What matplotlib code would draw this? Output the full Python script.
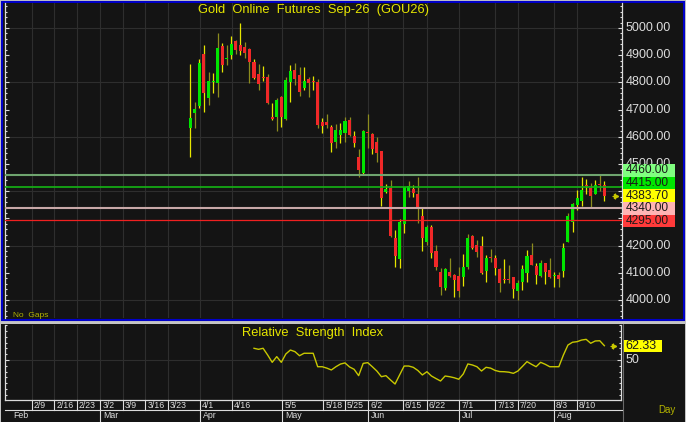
import numpy as np
import matplotlib
matplotlib.use("Agg")
import matplotlib.pyplot as plt
from matplotlib.patches import Rectangle
from matplotlib.ticker import MultipleLocator, FixedLocator
import matplotlib.transforms as mtransforms

plt.rcParams['font.family'] = ['Liberation Sans', 'DejaVu Sans']

# daily OHLC, Gold Online Futures Sep-26 (GOU26)
opens = [4633, 4689, 4713, 4903, 4744, 4802, 4799, 4934, 4885, 4901,
         4953, 4937, 4929, 4922, 4876, 4830, 4820, 4819, 4674, 4672,
         4745, 4664, 4803, 4846, 4827, 4778, 4811, 4806, 4803, 4656,
         4656, 4635, 4582, 4607, 4615, 4662, 4603, 4527, 4466, 4619,
         4610, 4582, 4549, 4396, 4411, 4227, 4151, 4279, 4401, 4407,
         4390, 4309, 4214, 4267, 4180, 4104, 4043, 4104, 4092, 4088,
         4086, 4120, 4237, 4202, 4199, 4108, 4156, 4153, 4113, 4076,
         4075, 4083, 4034, 4067, 4098, 4165, 4125, 4088, 4135, 4110,
         4088, 4092, 4108, 4215, 4288, 4349, 4365, 4420, 4411, 4390,
         4425, 4423]
highs = [4866, 4729, 4885, 4937, 4839, 4833, 4980, 4946, 4937, 4971,
         4956, 5020, 4950, 4925, 4885, 4868, 4860, 4830, 4723, 4741,
         4750, 4821, 4864, 4873, 4858, 4855, 4819, 4824, 4811, 4668,
         4683, 4643, 4647, 4652, 4672, 4672, 4621, 4554, 4625, 4683,
         4613, 4598, 4549, 4426, 4441, 4257, 4297, 4414, 4437, 4423,
         4451, 4337, 4276, 4276, 4202, 4116, 4117, 4153, 4095, 4120,
         4169, 4241, 4239, 4221, 4235, 4165, 4186, 4165, 4116, 4150,
         4129, 4086, 4074, 4129, 4184, 4211, 4137, 4147, 4135, 4153,
         4104, 4104, 4211, 4319, 4355, 4404, 4453, 4444, 4429, 4441,
         4460, 4436]
lows = [4527, 4631, 4705, 4692, 4717, 4760, 4747, 4839, 4864, 4885,
        4903, 4901, 4888, 4797, 4811, 4772, 4806, 4720, 4662, 4623,
        4635, 4662, 4729, 4790, 4750, 4772, 4745, 4772, 4631, 4613,
        4631, 4545, 4558, 4578, 4582, 4603, 4561, 4451, 4460, 4558,
        4537, 4509, 4346, 4392, 4233, 4120, 4116, 4245, 4380, 4380,
        4284, 4181, 4202, 4153, 4110, 4018, 4037, 4086, 4010, 4010,
        4052, 4113, 4186, 4157, 4096, 4067, 4141, 4092, 4031, 4061,
        4064, 4006, 4000, 4037, 4067, 4129, 4059, 4086, 4059, 4080,
        4049, 4049, 4086, 4215, 4251, 4331, 4346, 4390, 4341, 4390,
        4402, 4365]
closes = [4668, 4702, 4870, 4760, 4805, 4804, 4925, 4864, 4887, 4941,
          4919, 4915, 4907, 4876, 4815, 4794, 4817, 4723, 4664, 4735,
          4672, 4809, 4843, 4811, 4766, 4805, 4797, 4800, 4642, 4640,
          4643, 4578, 4625, 4625, 4658, 4607, 4578, 4478, 4621, 4615,
          4554, 4542, 4374, 4408, 4235, 4162, 4288, 4414, 4419, 4392,
          4333, 4227, 4270, 4174, 4122, 4047, 4113, 4088, 4074, 4034,
          4120, 4227, 4190, 4178, 4098, 4153, 4154, 4119, 4064, 4072,
          4073, 4039, 4064, 4113, 4162, 4129, 4092, 4137, 4104, 4083,
          4090, 4076, 4190, 4309, 4353, 4374, 4404, 4418, 4382, 4423,
          4423, 4383.70]
# bright (1) / dim (0) shadow flag as shown by the platform
shadow_flag = [1, 0, 1, 1, 0, 1, 0, 1, 0, 1,
               0, 1, 0, 0, 1, 0, 1, 0, 1, 0,
               1, 0, 1, 0, 0, 1, 0, 1, 0, 1,
               0, 1, 0, 1, 0, 0, 1, 0, 1, 0,
               1, 0, 1, 1, 0, 1, 1, 1, 0, 1,
               0, 1, 0, 1, 0, 0, 1, 0, 1, 0,
               1, 0, 1, 0, 1, 1, 0, 1, 0, 1,
               0, 1, 0, 1, 1, 0, 1, 0, 1, 0,
               1, 0, 1, 0, 1, 1, 1, 1, 0, 1,
               0, 1]
# RSI(14), starts on the 15th bar
rsi_values = [60.1, 59.2, 60.1, 54.3, 48.0, 52.9, 48.0, 55.2, 58.6, 57.2,
              53.7, 55.8, 55.8, 55.8, 44.2, 44.2, 43.0, 41.4, 44.2, 46.5,
              47.5, 44.0, 42.0, 36.5, 47.1, 47.7, 44.2, 40.5, 35.6, 36.5,
              32.8, 29.3, 37.1, 44.8, 44.8, 43.7, 41.0, 37.1, 39.9, 36.2,
              34.0, 31.9, 36.2, 35.6, 34.7, 33.4, 38.0, 46.6, 45.7, 44.2,
              40.5, 43.7, 43.0, 41.0, 40.0, 39.9, 39.5, 38.5, 40.5, 44.5,
              48.6, 46.3, 44.2, 48.0, 46.3, 44.2, 44.2, 44.2, 54.3, 62.9,
              65.3, 65.8, 67.2, 67.8, 64.4, 66.4, 66.6, 62.33]
rsi_start = 14

# price levels drawn on the chart and their tag colours
level_values = [4460.00, 4415.00, 4340.00, 4295.00]
level_line_colors = ['#6fa56f', '#14b414', '#c8a8a8', '#f02020']
level_line_widths = [1.5, 1.2, 1.5, 0.9]
tag_values = [4460.00, 4415.00, 4383.70, 4340.00, 4295.00]
tag_colors = ['#80ff80', '#00e600', '#ffff00', '#ffb4b4', '#ff3a3a']
last_rsi = 62.33

# date axis (bar-slot positions)
week_pos = [-34.8, -29.9, -24.9, -19.8, -14.9, -9.9, -4.9, 2.1, 9.1, 20.2,
            29.2, 34.0, 39.1, 46.7, 52.0, 59.1, 67.0, 72.0, 79.9, 85.0]
week_labels = ['2/9', '2/16', '2/23', '3/2', '3/9', '3/16', '3/23', '4/1', '4/16', '5/5',
               '5/18', '5/25', '6/2', '6/15', '6/22', '7/1', '7/13', '7/20', '8/3', '8/10']
month_pos = [-19.8, 2.1, 20.2, 39.1, 59.1, 79.9]
month_labels = ['Mar', 'Apr', 'May', 'Jun', 'Jul', 'Aug']

W, H = 686, 422
BG = '#141414'
GRID = '#2e2e2e'
AXC = '#dcdcdc'
YEL = '#e6e600'
OLV = '#b4b400'

step_px = 4.55
first_px = 190.3


def px_box(x0, y0, x1, y1):
    return [x0 / W, 1 - y1 / H, (x1 - x0) / W, (y1 - y0) / H]


fig = plt.figure(figsize=(W / 100, H / 100), dpi=100, facecolor='#c4c4c4')

bg = fig.add_axes([0, 0, 1, 1])
bg.set_xlim(0, W)
bg.set_ylim(H, 0)
bg.axis('off')
bg.add_patch(Rectangle((2, 2), 681.5, 318, facecolor=BG, edgecolor='#0000c8', lw=1.5))
bg.add_patch(Rectangle((1, 324), 684, 98, facecolor=BG, edgecolor='none'))
bg.plot([623, 623], [324, 422], color='#6a6a6a', lw=0.8)

# ---------------- price panel ----------------
ax = fig.add_axes(px_box(5, 3, 622, 318))
ax.set_facecolor(BG)
ax.set_xlim((5 - first_px) / step_px, (622 - first_px) / step_px)
ax.set_ylim(5000 - 290 / 0.272, 5000 + 25 / 0.272)

x = np.arange(len(closes))
o = np.array(opens, float)
h = np.array(highs, float)
l = np.array(lows, float)
c = np.array(closes, float)

for p in week_pos:
    ax.axvline(p, color=GRID, lw=0.8, zorder=0)
for p in range(4000, 5001, 200):
    ax.axhline(p, color=GRID, lw=0.8, zorder=0)

wick_cols = [YEL if f else '#8c8c1e' for f in shadow_flag]
ax.vlines(x, l, h, colors=wick_cols, lw=0.9, zorder=2)
body_cols = ['#00e600' if cc >= oo else '#f02828' for oo, cc in zip(o, c)]
ax.bar(x, np.maximum(np.abs(c - o), 4), bottom=np.minimum(o, c), width=0.66,
       color=body_cols, lw=0, zorder=3)

for v, col, lw in zip(level_values, level_line_colors, level_line_widths):
    ax.axhline(v, color=col, lw=lw, zorder=4)

for s in ['top', 'bottom']:
    ax.spines[s].set_visible(False)
for s in ['left', 'right']:
    ax.spines[s].set_color(AXC)
    ax.spines[s].set_linewidth(0.9)
ax.yaxis.set_major_locator(MultipleLocator(100))
ax.yaxis.set_minor_locator(MultipleLocator(20))
ax.tick_params(axis='y', which='both', left=True, right=True, direction='in',
               colors=AXC, labelleft=False, labelright=False, width=0.8)
ax.tick_params(axis='y', which='major', length=3)
ax.tick_params(axis='y', which='minor', length=1.5)
ax.tick_params(axis='x', bottom=False, labelbottom=False)

lab_tr = mtransforms.blended_transform_factory(ax.transAxes, ax.transData)
tag_step = 12.7 / 0.272
tag_centers = [tag_values[2] + (2 - k) * tag_step for k in range(len(tag_values))]

# axis price labels (those fully under the tag stack are hidden there anyway)
for p in range(4000, 5001, 100):
    if min(abs(p - yc) for yc in tag_centers) < tag_step * 0.3:
        continue
    ax.text((626 - 5) / 617, p, f'{p:.2f}', transform=lab_tr, color=AXC,
            fontsize=9, ha='left', va='center', clip_on=False, zorder=5)

for v, col, yc in zip(tag_values, tag_colors, tag_centers):
    ax.add_patch(Rectangle(((623 - 5) / 617, yc - tag_step / 2), 52 / 617, tag_step,
                           transform=lab_tr, facecolor=col, edgecolor='none',
                           clip_on=False, zorder=6))
    ax.text((625.5 - 5) / 617, yc, f'{v:.2f}', transform=lab_tr, color='#1a1a1a',
            fontsize=8.6, ha='left', va='center', clip_on=False, zorder=7)

ax.plot([(616 - first_px) / step_px], [closes[-1]], marker='>', ms=3,
        color='#c8c800', clip_on=False, zorder=6)
ax.plot([(614.5 - first_px) / step_px], [closes[-1]], marker='+', ms=4, mew=0.8,
        color='#c8c800', clip_on=False, zorder=6)

ax.text(0.5, (318 - 10) / 315, 'Gold  Online  Futures  Sep-26  (GOU26)',
        transform=ax.transAxes, color=YEL, fontsize=9.3, ha='center', va='center')
ax.text(8 / 617, (318 - 315.5) / 315, 'No  Gaps', transform=ax.transAxes,
        color=OLV, fontsize=6, ha='left', va='center')

# ---------------- RSI panel ----------------
rx = fig.add_axes(px_box(5, 325, 621, 400))
rx.set_facecolor(BG)
rx.set_xlim((5 - first_px) / step_px, (621 - first_px) / step_px)
rx.set_ylim(50 - 40 / 1.16, 50 + 35 / 1.16)

for p in week_pos:
    rx.axvline(p, color=GRID, lw=0.8, zorder=0)
rx.axhline(50, color=GRID, lw=0.8, zorder=0)

rx.plot(x[rsi_start:], rsi_values, color='#c8c800', lw=1, zorder=3)

rx.spines['top'].set_visible(False)
for s in ['left', 'right', 'bottom']:
    rx.spines[s].set_color(AXC)
    rx.spines[s].set_linewidth(0.9)
rx.yaxis.set_major_locator(FixedLocator([50]))
rx.yaxis.set_minor_locator(MultipleLocator(5))
rx.tick_params(axis='y', which='both', left=True, right=True, direction='in',
               colors=AXC, labelleft=False, labelright=False, width=0.8)
rx.tick_params(axis='y', which='major', length=3)
rx.tick_params(axis='y', which='minor', length=1.5)
rx.tick_params(axis='x', bottom=False, labelbottom=False)

rlab_tr = mtransforms.blended_transform_factory(rx.transAxes, rx.transData)
rx.text((626 - 5) / 616, 50, '50', transform=rlab_tr, color=AXC, fontsize=9,
        ha='left', va='center', clip_on=False)
rx.add_patch(Rectangle(((624 - 5) / 616, last_rsi - 12 / 1.16 / 2), 38 / 616, 12 / 1.16,
                       transform=rlab_tr, facecolor='#ffff00', edgecolor='none',
                       clip_on=False, zorder=6))
rx.text((625 - 5) / 616, last_rsi, f'{last_rsi:.2f}', transform=rlab_tr, color='#1a1a1a',
        fontsize=9, ha='left', va='center', clip_on=False, zorder=7)
rx.plot([(614 - first_px) / step_px], [last_rsi], marker='>', ms=3,
        color='#c8c800', clip_on=False, zorder=6)
rx.plot([(612.5 - first_px) / step_px], [last_rsi], marker='+', ms=4, mew=0.8,
        color='#c8c800', clip_on=False, zorder=6)

rx.text(0.5, (400 - 333) / 75, 'Relative  Strength  Index', transform=rx.transAxes,
        color=YEL, fontsize=9.3, ha='center', va='center')

# date rows
date_tr = mtransforms.blended_transform_factory(rx.transData, bg.transData)
for p, t in zip(week_pos, week_labels):
    rx.plot([p, p], [400, 410], color=AXC, lw=0.8, transform=date_tr, clip_on=False)
    rx.text(p + 0.45, 405.5, t, transform=date_tr, color=AXC, fontsize=6.3,
            ha='left', va='center', clip_on=False)
bg.plot([5, 622], [410, 410], color=AXC, lw=0.8)
for p, t in zip(month_pos, month_labels):
    rx.plot([p, p], [410, 422], color=AXC, lw=0.8, transform=date_tr, clip_on=False)
    rx.text(p + 0.6, 416, t, transform=date_tr, color=AXC, fontsize=6.3,
            ha='left', va='center', clip_on=False)
bg.text(13, 416, 'Feb', color=AXC, fontsize=6.3, ha='left', va='center')
bg.text(658, 410, 'Day', color=OLV, fontsize=7, ha='left', va='center')

fig.savefig('out.png', dpi=100, facecolor=fig.get_facecolor())
